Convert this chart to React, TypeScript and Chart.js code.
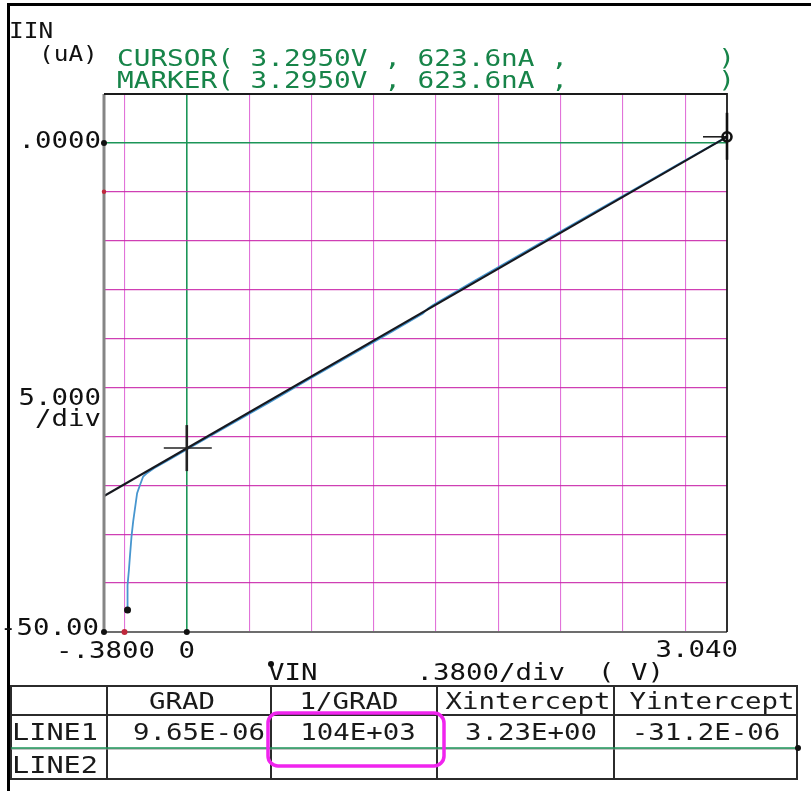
import React, { useEffect, useRef } from "react";
import { Chart, registerables } from "chart.js";

Chart.register(...registerables);

// ---------------- data ----------------
// measured IIN (uA) vs VIN (V)
const vinMeasured = [
  -0.3614, -0.3614, -0.353, -0.347, -0.337, -0.327, -0.317, -0.303, -0.286, -0.266, -0.246,
  -0.2, -0.1, 0, 0.25, 0.5, 0.75, 1.0, 1.25, 1.44, 1.47, 1.5, 1.75, 2.0, 2.25, 2.5, 2.75, 3.0, 3.295,
];
const iinMeasured = [
  -47.75, -45.2, -43.66, -42.3, -40.2, -38.7, -37.5, -35.8, -35.0, -34.1, -33.8,
  -33.25, -32.3, -31.35, -28.95, -26.55, -24.1, -21.7, -19.3, -17.45, -16.95, -16.6, -14.15, -11.75, -9.35, -6.95, -4.55, -2.15, 0.62,
];
// fitted LINE1 end points
const fitLineV = [-0.505, 3.295];
const fitLineI = [-36.1, 0.62];
// fitted-line marker (Y intercept at VIN = 0)
const fitMarkV = [0];
const fitMarkI = [-31.2];
// cursor / marker position
const cursorV = [3.295];
const cursorI = [0.6236];

// axis
const X_MIN = -0.505;
const X_MAX = 3.295;
const Y_MIN = -50;
const Y_MAX = 5;
const xGridValues = [-0.38, 0, 0.38, 0.76, 1.14, 1.52, 1.9, 2.28, 2.66, 3.04];
const yGridValues = [-45, -40, -35, -30, -25, -20, -15, -10, -5, 0];
const xTickLabels = ["-.3800", "0", "3.040"];
const xTickValues = [-0.38, 0, 3.04];
const yTickLabels = [".0000", "-50.00"];
const yTickValues = [0, -50];

// table
const tableHeaders = ["GRAD", "1/GRAD", "Xintercept", "Yintercept"];
const line1Values = ["9.65E-06", "104E+03", "3.23E+00", "-31.2E-06"];
const rowLabels = ["LINE1", "LINE2"];

// ---------------- styles ----------------
const GREEN = "#1c9558";
const TEXT_GREEN = "#178449";
const MAGENTA_V = "rgba(218,80,208,0.8)";
const MAGENTA_H = "rgba(200,36,170,0.88)";
const BLUE = "#4796cf";
const INK = "#16181f";
const FONT_FAMILY = '"DejaVu Sans Mono", "Liberation Mono", monospace';

function monoText(
  ctx: CanvasRenderingContext2D,
  s: string,
  x: number,
  y: number,
  align: "left" | "right" | "center",
  color: string,
  pitch = 16.5,
  size = 23
) {
  ctx.save();
  ctx.font = `${size}px ${FONT_FAMILY}`;
  const adv = ctx.measureText("0").width;
  const sx = pitch / adv;
  const w = s.length * pitch;
  let left = x;
  if (align === "right") left = x - w;
  else if (align === "center") left = x - w / 2;
  ctx.translate(left, y);
  ctx.scale(sx, 1);
  ctx.textAlign = "left";
  ctx.textBaseline = "alphabetic";
  ctx.fillStyle = color;
  ctx.fillText(s, 0, 0);
  ctx.restore();
}

function dot(ctx: CanvasRenderingContext2D, x: number, y: number, r: number, color: string) {
  ctx.beginPath();
  ctx.arc(x, y, r, 0, Math.PI * 2);
  ctx.fillStyle = color;
  ctx.fill();
}

const overlayPlugin = {
  id: "hpOverlay",
  afterDatasetsDraw(chart: any) {
    const ctx: CanvasRenderingContext2D = chart.ctx;
    const xs = chart.scales.x;
    const ys = chart.scales.y;
    const ca = chart.chartArea;
    ctx.save();
    // frame of plot
    ctx.lineCap = "butt";
    ctx.strokeStyle = "#858585";
    ctx.lineWidth = 3;
    ctx.beginPath();
    ctx.moveTo(ca.left, ca.top);
    ctx.lineTo(ca.left, ca.bottom);
    ctx.stroke();
    ctx.lineWidth = 2;
    ctx.strokeStyle = "#6d6d6d";
    ctx.beginPath();
    ctx.moveTo(ca.left, ca.bottom);
    ctx.lineTo(ca.right, ca.bottom);
    ctx.stroke();
    ctx.strokeStyle = "#1a1a1a";
    ctx.lineWidth = 1.8;
    ctx.beginPath();
    ctx.moveTo(ca.left, ca.top);
    ctx.lineTo(ca.right, ca.top);
    ctx.lineTo(ca.right, ca.bottom);
    ctx.stroke();

    // fitted-line crosshair
    const cx = xs.getPixelForValue(fitMarkV[0]);
    const cy = ys.getPixelForValue(fitMarkI[0]);
    ctx.strokeStyle = "#222";
    ctx.lineWidth = 1.5;
    ctx.beginPath();
    ctx.moveTo(cx - 23, cy);
    ctx.lineTo(cx + 25, cy);
    ctx.stroke();
    ctx.lineWidth = 2.6;
    ctx.beginPath();
    ctx.moveTo(cx, cy - 23);
    ctx.lineTo(cx, cy + 23);
    ctx.stroke();

    // cursor marker
    const mx = xs.getPixelForValue(cursorV[0]);
    const my = ys.getPixelForValue(cursorI[0]);
    ctx.strokeStyle = "#111";
    ctx.lineWidth = 2.6;
    ctx.beginPath();
    ctx.moveTo(mx, my - 24);
    ctx.lineTo(mx, my + 23);
    ctx.stroke();
    ctx.lineWidth = 1.5;
    ctx.beginPath();
    ctx.moveTo(mx - 24, my);
    ctx.lineTo(mx, my);
    ctx.stroke();
    ctx.lineWidth = 2.6;
    ctx.beginPath();
    ctx.arc(mx, my, 4.5, 0, Math.PI * 2);
    ctx.stroke();

    // axis dots
    dot(ctx, ca.left, ys.getPixelForValue(Y_MIN), 3, "#111");
    dot(ctx, xs.getPixelForValue(xGridValues[0]), ys.getPixelForValue(Y_MIN), 3, "#c0283c");
    dot(ctx, xs.getPixelForValue(0), ys.getPixelForValue(Y_MIN), 3, "#111");
    dot(ctx, ca.left, ys.getPixelForValue(0), 3, "#111");
    dot(ctx, ca.left, ys.getPixelForValue(-5), 2.2, "#c0283c");
    // start of measurement
    dot(ctx, xs.getPixelForValue(vinMeasured[0]), ys.getPixelForValue(iinMeasured[0]), 3.5, "#111");
    ctx.restore();
  },
  afterDraw(chart: any) {
    const ctx: CanvasRenderingContext2D = chart.ctx;
    const xs = chart.scales.x;
    const ys = chart.scales.y;
    ctx.save();
    // page frame
    ctx.fillStyle = "#000";
    ctx.fillRect(7, 3, 811, 3);
    ctx.fillRect(7, 3, 3, 791);

    // y axis title
    monoText(ctx, "IIN", 9, 38, "left", "#111", 14.7, 21);
    monoText(ctx, "(uA)", 39, 61, "left", "#111", 14.7, 21);

    // cursor / marker read-outs
    const vStr = cursorV[0].toFixed(4);
    const iStr = (cursorI[0] * 1000).toFixed(1);
    const pad = "         ";
    monoText(ctx, `CURSOR( ${vStr}V , ${iStr}nA ,${pad})`, 117, 66, "left", TEXT_GREEN, 16.7);
    monoText(ctx, `MARKER( ${vStr}V , ${iStr}nA ,${pad})`, 117, 88, "left", TEXT_GREEN, 16.7);

    // y tick labels
    monoText(ctx, yTickLabels[0], 101, ys.getPixelForValue(yTickValues[0]) + 5, "right", "#111");
    monoText(ctx, yTickLabels[1], 99, ys.getPixelForValue(yTickValues[1]) + 3, "right", "#111");
    monoText(ctx, "5.000", 101, 405, "right", "#111");
    monoText(ctx, "/div", 101, 426, "right", "#111");

    // x tick labels
    monoText(ctx, xTickLabels[0], 56, 658, "left", "#111");
    monoText(ctx, xTickLabels[1], xs.getPixelForValue(xTickValues[1]), 658, "center", "#111");
    monoText(ctx, xTickLabels[2], 738, 657, "right", "#111");
    monoText(ctx, "VIN      .3800/div  ( V)", 268, 680, "left", "#111");
    dot(ctx, 271, 664, 3, "#111");

    // results table
    const colX = [11, 107, 271, 437, 614, 797];
    const rowY = [686, 715, 748, 779];
    ctx.strokeStyle = "#2b2b2b";
    ctx.lineWidth = 2;
    ctx.strokeRect(colX[0], rowY[0], colX[5] - colX[0], rowY[3] - rowY[0]);
    ctx.beginPath();
    ctx.moveTo(colX[0], rowY[1]);
    ctx.lineTo(colX[5], rowY[1]);
    for (let i = 1; i < 5; i++) {
      ctx.moveTo(colX[i], rowY[0]);
      ctx.lineTo(colX[i], rowY[3]);
    }
    ctx.stroke();
    ctx.strokeStyle = "#8a8a8a";
    ctx.lineWidth = 1;
    ctx.beginPath();
    ctx.moveTo(colX[0], rowY[2] + 1);
    ctx.lineTo(colX[5], rowY[2] + 1);
    ctx.stroke();
    ctx.strokeStyle = GREEN;
    ctx.lineWidth = 1.6;
    ctx.beginPath();
    ctx.moveTo(colX[0], rowY[2]);
    ctx.lineTo(colX[5] + 1, rowY[2]);
    ctx.stroke();
    dot(ctx, colX[5] + 1, rowY[2], 3, "#111");

    const headCenters = [182, 349, 528, 712];
    const valCenters = [199, 358, 531, 706];
    tableHeaders.forEach((h, i) => monoText(ctx, h, headCenters[i], 709, "center", "#1a1a1a"));
    line1Values.forEach((v, i) => monoText(ctx, v, valCenters[i], 740, "center", "#1a1a1a"));
    monoText(ctx, rowLabels[0], 12, 740, "left", "#1a1a1a", 17.2);
    monoText(ctx, rowLabels[1], 12, 773, "left", "#1a1a1a", 17.2);

    // highlight box
    ctx.strokeStyle = "#f024ee";
    ctx.lineWidth = 3.5;
    ctx.beginPath();
    (ctx as any).roundRect(268, 713, 176, 53, 10);
    ctx.stroke();
    ctx.restore();
  },
};

export default function App() {
  const ref = useRef<HTMLCanvasElement | null>(null);
  useEffect(() => {
    if (!ref.current) return;
    const measured = vinMeasured.map((v, i) => ({ x: v, y: iinMeasured[i] }));
    const fit = fitLineV.map((v, i) => ({ x: v, y: fitLineI[i] }));
    const isZero = (ctx: any) => ctx.tick && Math.abs(ctx.tick.value) < 1e-9;
    const chart = new Chart(ref.current, {
      type: "scatter",
      data: {
        datasets: [
          {
            label: "LINE1",
            data: fit,
            showLine: true,
            borderColor: INK,
            borderWidth: 2.2,
            pointRadius: 0,
            order: 1,
          },
          {
            label: "IIN",
            data: measured,
            showLine: true,
            borderColor: BLUE,
            borderWidth: 1.8,
            pointRadius: 0,
            tension: 0,
            order: 2,
          },
        ],
      },
      options: {
        animation: false,
        responsive: false,
        maintainAspectRatio: false,
        events: [],
        layout: { padding: { left: 104, top: 94, right: 84, bottom: 159 } },
        plugins: {
          legend: { display: false },
          tooltip: { enabled: false },
          title: { display: false },
        },
        scales: {
          x: {
            type: "linear",
            min: X_MIN,
            max: X_MAX,
            afterBuildTicks: (s: any) => {
              s.ticks = xGridValues.map((v) => ({ value: v }));
            },
            ticks: { display: false },
            grid: {
              drawTicks: false,
              color: (c: any) => (isZero(c) ? GREEN : MAGENTA_V),
              lineWidth: (c: any) => (isZero(c) ? 1.6 : 1.1),
            },
            border: { display: false },
          },
          y: {
            type: "linear",
            min: Y_MIN,
            max: Y_MAX,
            afterBuildTicks: (s: any) => {
              s.ticks = yGridValues.map((v) => ({ value: v }));
            },
            ticks: { display: false },
            grid: {
              drawTicks: false,
              color: (c: any) => (isZero(c) ? GREEN : MAGENTA_H),
              lineWidth: (c: any) => (isZero(c) ? 1.6 : 1.3),
            },
            border: { display: false },
          },
        },
      } as any,
      plugins: [overlayPlugin],
    });
    return () => chart.destroy();
  }, []);
  return (
    <div
      style={{
        position: "fixed",
        left: 0,
        top: 0,
        width: 811,
        height: 791,
        background: "#fff",
      }}
    >
      <canvas ref={ref} width={811} height={791} style={{ display: "block" }} />
    </div>
  );
}
